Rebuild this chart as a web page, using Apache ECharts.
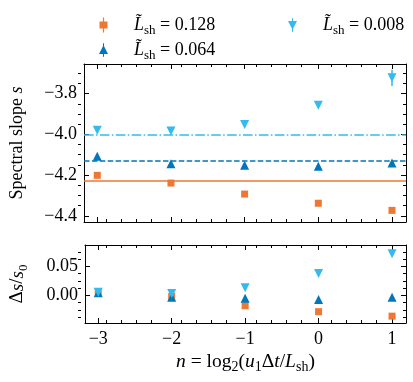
<!DOCTYPE html>
<html>
<head>
<meta charset="utf-8">
<script src="https://cdn.jsdelivr.net/npm/echarts@6/dist/echarts.min.js"></script>
<style>
  html, body { margin: 0; padding: 0; background: #fff; }
  #chart { width: 413px; height: 382px; }
</style>
</head>
<body>
<div id="chart"></div>
<script>
// data
const nValues = [-3, -2, -1, 0, 1];
const legendLabels = ['0.128', '0.064', '0.008'];

const slope128 = [-4.201, -4.239, -4.293, -4.338, -4.373];
const slope064 = [-4.108, -4.144, -4.152, -4.156, -4.141];
const slope008 = [-3.980, -3.984, -3.952, -3.857, -3.723];
const err128 = [0.004, 0.004, 0.005, 0.006, 0.010];
const err064 = [0.004, 0.004, 0.005, 0.006, 0.010];
const err008 = [0.005, 0.005, 0.006, 0.008, 0.040];
const refSlopes = [-4.226, -4.128, -3.995];

const rel128 = [0.0047, -0.0017, -0.0178, -0.0280, -0.0357];
const rel064 = [0.0047, -0.0030, -0.0050, -0.0070, -0.0030];
const rel008 = [0.0057, 0.0034, 0.0133, 0.0380, 0.0719];

const xTicks = [-3, -2, -1, 0, 1];
const slopeTicks = [-4.4, -4.2, -4.0, -3.8];
const relTicks = [0.0, 0.05];

const X_MIN = -3.18, X_MAX = 1.19;
const S_MIN = -4.43, S_MAX = -3.655;
const R_MIN = -0.0475, R_MAX = 0.087;

const COLORS = ['#EE7733', '#0077BB', '#33BBEE'];
const SYMBOLS = ['rect', 'triangle', 'path://M0,0 L10,0 L5,10 Z'];
const SYMBOL_SIZES = [7, 9, 9];
const LINE_TYPES = ['solid', [5.5, 2.4], [9.6, 2.4, 1.5, 2.4]];
const LEGEND_ICONS = [
  'path://M4.4,0H5.6V4H9V11H5.6V15H4.4V11H1V4H4.4Z',
  'path://M4.4,0H5.6V3.4L10,12H5.6V15H4.4V12H0L4.4,3.4Z',
  'path://M4.4,0H5.6V3H10L5.6,11.6V15H4.4V11.6L0,3H4.4Z'
];

const FONT = 'Liberation Serif';
const FS = 18;

function makeRich(size) {
  return {
    r: { fontFamily: FONT, fontSize: size, lineHeight: size + 6, color: '#000' },
    i: { fontFamily: FONT, fontSize: size, fontStyle: 'italic', lineHeight: size + 6, color: '#000' },
    sub: { fontFamily: FONT, fontSize: Math.round(size * 0.7), lineHeight: Math.round(size * 0.7),
      verticalAlign: 'bottom', color: '#000' },
    sp: { width: 21 }
  };
}

const minus = (s) => s.replace('-', '\u2212');

// minor tick positions between the majors
function minorTicks(min, max, step, majors) {
  const out = [];
  for (let k = Math.ceil(min / step - 1e-9); k * step <= max + 1e-9; k++) {
    const v = +(k * step).toFixed(6);
    if (v > min && v < max && !majors.some((m) => Math.abs(m - v) < 1e-6)) out.push(v);
  }
  return out;
}

const xAxes = [];
const yAxes = [];

// one axis on each side of a grid
function addAxes(list, gridIndex, positions, min, max, ticks, tickLen, withLine, label, nameCfg) {
  positions.forEach((pos, k) => {
    const ax = {
      type: 'value',
      gridIndex,
      position: pos,
      min,
      max,
      axisLine: { show: withLine, onZero: false, lineStyle: { color: '#000', width: 1 } },
      axisTick: {
        show: true, inside: true, length: tickLen, customValues: ticks,
        lineStyle: { color: '#000', width: 1 }
      },
      axisLabel: (k === 0 && label) ? {
        show: true, customValues: ticks, formatter: label,
        fontFamily: FONT, fontSize: FS, color: '#000', margin: 7
      } : { show: false },
      splitLine: { show: false }
    };
    if (k === 0 && nameCfg) Object.assign(ax, nameCfg);
    list.push(ax);
  });
}

const grids = [
  { left: 78, right: 7, top: 64, height: 158 },
  { left: 78, right: 7, top: 64, height: 158 },
  { left: 78, right: 7, top: 245, height: 78 },
  { left: 78, right: 7, top: 245, height: 78 }
];

const xMinor = minorTicks(X_MIN, X_MAX, 0.2, xTicks);
const sMinor = minorTicks(S_MIN, S_MAX, 0.05, slopeTicks);
const rMinor = minorTicks(R_MIN, R_MAX, 0.0125, relTicks);

// top panel
addAxes(xAxes, 0, ['bottom', 'top'], X_MIN, X_MAX, xTicks, 5, true, null);
addAxes(yAxes, 0, ['left', 'right'], S_MIN, S_MAX, slopeTicks, 5, true,
  (v) => minus(v.toFixed(1)),
  {
    name: '{r|Spectral slope }{i|s}', nameLocation: 'middle', nameRotate: 90, nameGap: 55,
    nameTextStyle: { rich: makeRich(18) }
  });
addAxes(xAxes, 1, ['bottom', 'top'], X_MIN, X_MAX, xMinor, 3, false, null);
addAxes(yAxes, 1, ['left', 'right'], S_MIN, S_MAX, sMinor, 3, false, null);

// bottom panel
addAxes(xAxes, 2, ['bottom', 'top'], X_MIN, X_MAX, xTicks, 5, true,
  (v) => minus(String(Math.round(v))),
  {
    name: '{i|n}{r| = log}{sub|2}{r|(}{i|u}{sub|1}{r|Δ}{i|t}{r|/}{i|L}{sub|sh}{r|)}',
    nameLocation: 'middle', nameGap: 26,
    nameTextStyle: { rich: makeRich(19.5) }
  });
addAxes(yAxes, 2, ['left', 'right'], R_MIN, R_MAX, relTicks, 5, true,
  (v) => minus(v.toFixed(2)),
  {
    name: '{r|Δ}{i|s}{r|/}{i|s}{sub|0}', nameLocation: 'middle', nameRotate: 90, nameGap: 55,
    nameTextStyle: { rich: makeRich(19) }
  });
addAxes(xAxes, 3, ['bottom', 'top'], X_MIN, X_MAX, xMinor, 3, false, null);
addAxes(yAxes, 3, ['left', 'right'], R_MIN, R_MAX, rMinor, 3, false, null);

const slopeSets = [slope128, slope064, slope008];
const errSets = [err128, err064, err008];
const relSets = [rel128, rel064, rel008];

const series = [];
slopeSets.forEach((vals, i) => {
  series.push({
    type: 'custom',
    name: legendLabels[i] + ' err',
    xAxisIndex: 0,
    yAxisIndex: 0,
    z: 2,
    silent: true,
    data: nValues.map((n, j) => [n, vals[j], errSets[i][j]]),
    renderItem: (params, api) => {
      const x = api.value(0), y = api.value(1), e = api.value(2);
      const p1 = api.coord([x, y - e]);
      const p2 = api.coord([x, y + e]);
      return {
        type: 'line',
        shape: { x1: p1[0], y1: p1[1], x2: p2[0], y2: p2[1] },
        style: { stroke: COLORS[i], lineWidth: 1.5 }
      };
    },
    markLine: {
      silent: true,
      symbol: 'none',
      label: { show: false },
      lineStyle: { color: COLORS[i], width: 1.5, type: LINE_TYPES[i] },
      data: [{ yAxis: refSlopes[i] }]
    }
  });
});
slopeSets.forEach((vals, i) => {
  series.push({
    type: 'scatter',
    name: legendLabels[i],
    xAxisIndex: 0,
    yAxisIndex: 0,
    z: 3,
    symbol: SYMBOLS[i],
    symbolSize: SYMBOL_SIZES[i],
    itemStyle: { color: COLORS[i], opacity: 1 },
    data: nValues.map((n, j) => [n, vals[j]])
  });
});
relSets.forEach((vals, i) => {
  series.push({
    type: 'scatter',
    name: legendLabels[i],
    xAxisIndex: 4,
    yAxisIndex: 4,
    z: 3,
    symbol: SYMBOLS[i],
    symbolSize: SYMBOL_SIZES[i],
    itemStyle: { color: COLORS[i], opacity: 1 },
    data: nValues.map((n, j) => [n, vals[j]])
  });
});

const legendBase = {
  orient: 'vertical',
  itemWidth: 9,
  itemHeight: 15,
  itemGap: 4,
  selectedMode: false,
  formatter: (name) => '{sp| }{i|L\u0303}{sub|sh}{r| = ' + name + '}',
  textStyle: { rich: makeRich(18) }
};

const option = {
  animation: false,
  backgroundColor: '#fff',
  grid: grids,
  xAxis: xAxes,
  yAxis: yAxes,
  legend: [
    Object.assign({}, legendBase, {
      left: 94, top: 11,
      data: [
        { name: legendLabels[0], icon: LEGEND_ICONS[0], itemStyle: { color: COLORS[0] } },
        { name: legendLabels[1], icon: LEGEND_ICONS[1], itemStyle: { color: COLORS[1] } }
      ]
    }),
    Object.assign({}, legendBase, {
      left: 283, top: 11,
      data: [
        { name: legendLabels[2], icon: LEGEND_ICONS[2], itemStyle: { color: COLORS[2] } }
      ]
    })
  ],
  series
};

const chart = echarts.init(document.getElementById('chart'), null, { renderer: 'canvas' });
chart.setOption(option);
</script>
</body>
</html>
